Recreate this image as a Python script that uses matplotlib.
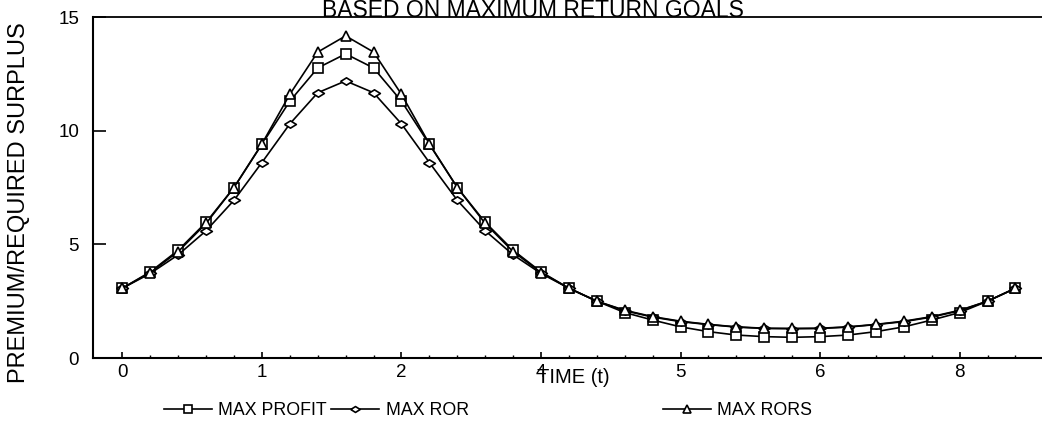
import numpy as np
import matplotlib
matplotlib.use("Agg")
import matplotlib.pyplot as plt

plt.rcParams['font.family'] = ['Liberation Sans', 'DejaVu Sans']

# time grid (0.2 steps) and the three premium/surplus series
time = [0.0, 0.2, 0.4, 0.6, 0.8, 1.0, 1.2, 1.4, 1.6, 1.8, 2.0, 2.2, 2.4, 2.6, 2.8,
        3.0, 3.2, 3.4, 3.6, 3.8, 4.0, 4.2, 4.4, 4.6, 4.8, 5.0, 5.2, 5.4, 5.6, 5.8,
        6.0, 6.2, 6.4]
max_profit = [3.07, 3.79, 4.74, 5.97, 7.5, 9.4, 11.3, 12.76, 13.38, 12.76, 11.3, 9.4,
              7.5, 5.97, 4.74, 3.79, 3.07, 2.5, 2.0, 1.67, 1.37, 1.16, 1.01, 0.94,
              0.91, 0.94, 1.01, 1.16, 1.37, 1.67, 2.0, 2.5, 3.07]
max_ror = [3.07, 3.72, 4.54, 5.6, 6.94, 8.6, 10.3, 11.67, 12.19, 11.67, 10.3, 8.6,
           6.94, 5.6, 4.54, 3.72, 3.07, 2.5, 2.08, 1.8, 1.6, 1.47, 1.36, 1.3,
           1.29, 1.3, 1.36, 1.47, 1.6, 1.8, 2.08, 2.5, 3.07]
max_rors = [3.07, 3.76, 4.68, 5.92, 7.5, 9.42, 11.6, 13.46, 14.17, 13.46, 11.6, 9.42,
            7.5, 5.92, 4.68, 3.76, 3.07, 2.5, 2.1, 1.82, 1.62, 1.48, 1.37, 1.31,
            1.3, 1.31, 1.37, 1.48, 1.62, 1.82, 2.1, 2.5, 3.07]

xtick_pos = [0, 1, 2, 3, 4, 5, 6]
xtick_labels = ['0', '1', '2', '4', '5', '6', '8']
ytick_pos = [0, 5, 10, 15]

# flat diamond like the scanned plot markers
flat_diamond = [(-1, 0), (0, 0.62), (1, 0), (0, -0.62), (-1, 0)]

fig = plt.figure(figsize=(10.42, 4.26), dpi=100)
ax = fig.add_axes([0.0893, 0.1596, 0.9107, 0.8004])

style = dict(color='black', lw=1.2, markerfacecolor='white', markeredgecolor='black',
             markeredgewidth=1.2)
l1, = ax.plot(time, max_profit, marker='s', ms=7, label='MAX PROFIT', **style)
l2, = ax.plot(time, max_ror, marker=flat_diamond, ms=8.5, label='MAX ROR', **style)
l3, = ax.plot(time, max_rors, marker='^', ms=7.5, label='MAX RORS', **style)

ax.set_xlim(-0.21, 6.59)
ax.set_ylim(0, 15)
ax.set_xticks(xtick_pos)
ax.set_xticklabels(xtick_labels, fontsize=13.5)
ax.set_xticks(time, minor=True)
ax.set_yticks(ytick_pos)
ax.set_yticklabels([str(v) for v in ytick_pos], fontsize=13.5)
ax.tick_params(axis='x', which='major', direction='in', length=4, width=1.2, pad=4)
ax.tick_params(axis='x', which='minor', direction='in', length=2.5, width=1)
ax.tick_params(axis='y', which='major', direction='in', length=9, width=1.2, pad=10)

ax.spines['right'].set_visible(False)
ax.spines['left'].set_linewidth(1.5)
ax.spines['bottom'].set_linewidth(1.5)
ax.spines['top'].set_linewidth(1.3)

ax.set_ylabel('PREMIUM/REQUIRED SURPLUS', fontsize=17)
ax.yaxis.set_label_coords(-0.066, 0.457)
ax.set_xlabel('TIME (t)', fontsize=14.5)
ax.xaxis.set_label_coords(0.506, -0.03)

fig.text(0.511, 0.961, 'BASED ON MAXIMUM RETURN GOALS', ha='center', va='baseline',
         fontsize=16.5)

# three separate legend entries spaced as in the original
for handle, xpos in [(l1, 0.157), (l2, 0.318), (l3, 0.636)]:
    fig.legend(handles=[handle], loc='center left', bbox_to_anchor=(xpos, 0.037),
               frameon=False, fontsize=12.8, handlelength=2.7, handletextpad=0.35,
               borderpad=0, borderaxespad=0, markerscale=0.8)

fig.savefig('out.png', dpi=100)
